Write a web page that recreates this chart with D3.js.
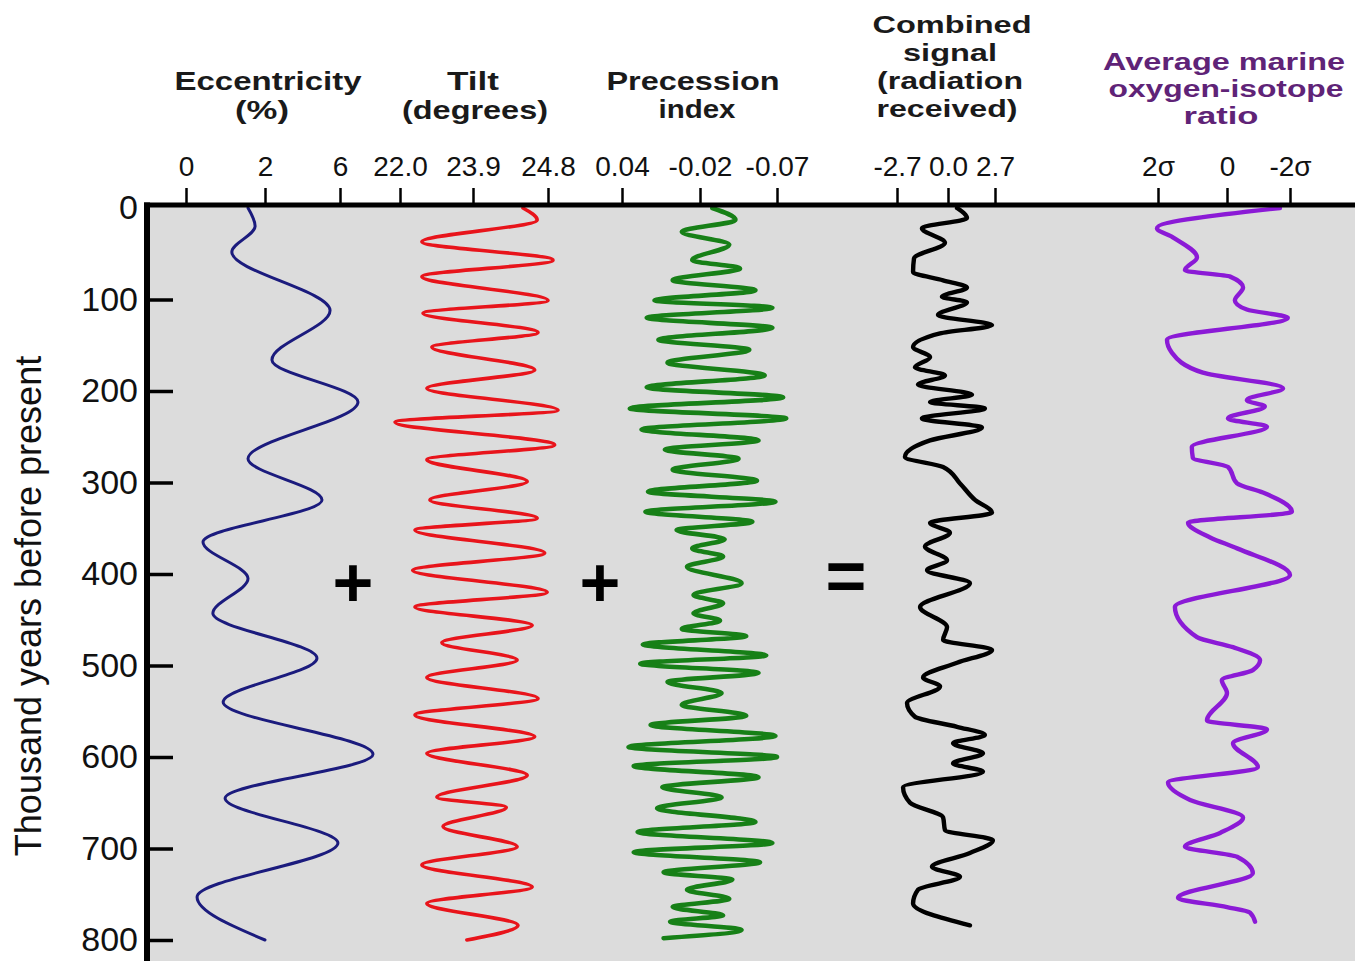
<!DOCTYPE html>
<html>
<head>
<meta charset="utf-8">
<script src="https://cdn.jsdelivr.net/npm/d3@7"></script>
<style>
  body { margin: 0; background: #ffffff; }
  svg { display: block; }
</style>
</head>
<body>
<svg id="chart" width="1355" height="961"></svg>
<script>
// ---------------- DATA ----------------
const timeTicks = [0, 100, 200, 300, 400, 500, 600, 700, 800];

// Eccentricity (%)
const eccTicks = [0, 2, 6];
const eccTickLabels = ["0", "2", "6"];
const eccTime  = [0, 20, 48, 112, 166, 212, 274, 319, 365, 405, 443, 492, 540, 597, 645, 694, 753, 800];
const eccValue = [1.57, 1.75, 1.16, 5.47, 2.37, 6.96, 1.57, 5.04, 0.43, 1.57, 0.68, 4.77, 0.94, 7.76, 0.99, 5.89, 0.28, 2.0];

// Tilt (degrees)
const tiltTicks = [22.0, 23.9, 24.8];
const tiltTickLabels = ["22.0", "23.9", "24.8"];
const tiltTime  = [0, 13, 37, 57, 75, 101, 115, 136, 152, 177, 197, 221, 234, 259, 275, 299, 319, 339, 352, 377, 396, 420, 436, 456, 475, 494, 513, 536, 554, 578, 596, 620, 644, 655, 676, 698, 718, 742, 760, 784, 800];
const tiltValue = [24.50, 24.67, 22.57, 24.86, 22.57, 24.80, 22.60, 24.68, 22.83, 24.64, 22.70, 24.92, 21.87, 24.88, 22.70, 24.55, 22.78, 24.67, 22.39, 24.76, 22.33, 24.79, 22.39, 24.61, 23.09, 24.43, 22.70, 24.68, 22.39, 24.64, 22.70, 24.55, 22.96, 24.30, 23.12, 24.43, 22.57, 24.61, 22.70, 24.44, 23.74];

// Precession index
const precTicks = [0.04, -0.02, -0.07];
const precTickLabels = ["0.04", "-0.02", "-0.07"];
const precTime  = [0, 13, 26, 40, 57, 66, 79, 90, 101, 109, 120, 131, 144, 155, 169, 183, 196, 207, 219, 230, 242, 254, 264, 274, 286, 298, 310, 321, 332, 343, 352, 362, 372, 381, 392, 410, 423, 432, 443, 451, 460, 468, 477, 489, 498, 508, 518, 530, 543, 555, 565, 577, 589, 600, 610, 622, 633, 644, 656, 671, 682, 694, 704, 715, 726, 734, 745, 755, 764, 773, 780, 789, 798];
const precValue = [-0.028, -0.043, -0.006, -0.039, -0.014, -0.046, 0.001, -0.056, 0.015, -0.067, 0.021, -0.067, 0.012, -0.052, 0.005, -0.062, 0.021, -0.074, 0.034, -0.076, 0.025, -0.058, 0.007, -0.045, 0.001, -0.057, 0.020, -0.069, 0.022, -0.054, -0.002, -0.036, -0.014, -0.035, -0.010, -0.047, -0.015, -0.035, -0.015, -0.033, -0.006, -0.050, 0.024, -0.063, 0.026, -0.058, 0.005, -0.034, -0.006, -0.050, 0.018, -0.069, 0.035, -0.070, 0.031, -0.058, 0.009, -0.034, 0.013, -0.056, 0.028, -0.067, 0.031, -0.059, 0.008, -0.041, -0.010, -0.039, 0.001, -0.035, 0.003, -0.047, 0.008];

// Combined signal (radiation received)
const combTicks = [-2.7, 0.0, 2.7];
const combTickLabels = ["-2.7", "0.0", "2.7"];
const combTime  = [0, 11, 22, 38, 55, 70, 79, 87, 97, 103, 117, 128, 137, 152, 163, 174, 183, 193, 204, 212, 219, 230, 240, 254, 272, 283, 301, 319, 333, 344, 355, 370, 385, 396, 410, 436, 458, 472, 483, 497, 513, 523, 541, 556, 567, 576, 585, 596, 607, 616, 633, 650, 666, 680, 691, 705, 720, 731, 745, 760, 784];
const combValue = [0.52, 1.09, -1.38, -0.16, -1.80, -1.85, -0.26, 1.09, -0.32, 1.09, -0.53, 2.53, -0.42, -1.85, -0.95, -1.75, -0.16, -1.59, 1.38, -0.95, 2.12, -1.38, 1.95, -0.95, -2.28, -0.26, 0.69, 1.55, 2.53, -0.95, 0.11, -1.22, -0.05, -1.11, 1.26, -1.48, -0.05, -0.26, 2.53, 0.52, -1.32, -0.42, -2.17, -1.75, 0.52, 2.12, 0.29, 2.01, 0.29, 2.01, -2.38, -2.01, -0.26, -0.16, 2.58, 1.26, -0.85, 0.69, -1.59, -1.85, 1.26];

// Average marine oxygen-isotope ratio (sigma units)
const isoTicks = [2, 0, -2];
const isoTickLabels = ["2σ", "0", "-2σ"];
const isoTime  = [0, 22, 32, 54, 68, 75, 87, 101, 111, 120, 144, 158, 180, 197, 210, 217, 230, 239, 261, 273, 283, 301, 311, 332, 344, 360, 372, 401, 436, 469, 480, 494, 505, 516, 530, 560, 570, 585, 611, 628, 647, 666, 683, 698, 709, 727, 754, 764, 770, 780];
const isoValue = [-1.68, 2.03, 1.57, 0.87, 1.22, -0.10, -0.51, -0.25, -0.63, -1.93, 1.74, 1.60, 0.70, -1.78, -0.63, -1.20, -0.03, -1.27, 1.02, 0.99, -0.03, -0.32, -1.14, -2.06, 1.13, 0.49, -0.32, -2.00, 1.51, 0.87, -0.19, -1.05, -0.82, 0.15, 0.00, 0.58, -1.27, -0.19, -0.98, 1.71, 1.07, -0.51, 0.20, 1.22, -0.32, -0.82, 1.42, 0.00, -0.73, -0.89];

// ---------------- CHART ----------------
const svg = d3.select("#chart");
const FONT = "'Liberation Sans', Arial, Helvetica, sans-serif";

const frameTop = 205, frameLeft = 147;
const y = d3.scaleLinear().domain([0, 800]).range([208, 940]);

const xEcc  = d3.scaleLinear().domain(eccTicks).range([186, 265, 340]);
const xTilt = d3.scaleLinear().domain(tiltTicks).range([400, 473, 548]);
const xPrec = d3.scaleLinear().domain(precTicks).range([622, 700, 777]);
const xComb = d3.scaleLinear().domain(combTicks).range([897, 948, 995]);
const xIso  = d3.scaleLinear().domain(isoTicks).range([1158, 1227, 1290]);

// plot background
svg.append("rect")
  .attr("x", frameLeft).attr("y", frameTop)
  .attr("width", 1355 - frameLeft).attr("height", 961 - frameTop)
  .attr("fill", "#dcdcdc");

// series
const series = [
  {time: eccTime,  value: eccValue,  x: xEcc,  color: "#1b1b7d", width: 3.0},
  {time: tiltTime, value: tiltValue, x: xTilt, color: "#e8141b", width: 3.6},
  {time: precTime, value: precValue, x: xPrec, color: "#178017", width: 4.6},
  {time: combTime, value: combValue, x: xComb, color: "#000000", width: 4.4},
  {time: isoTime,  value: isoValue,  x: xIso,  color: "#8b1ad6", width: 4.4}
];

series.forEach(s => {
  const pts = s.time.map((t, i) => ({t: t, v: s.value[i]}));
  const line = d3.line()
    .x(d => s.x(d.v))
    .y(d => y(d.t))
    .curve(d3.curveMonotoneY);
  svg.append("path")
    .datum(pts)
    .attr("d", line)
    .attr("fill", "none")
    .attr("stroke", s.color)
    .attr("stroke-width", s.width)
    .attr("stroke-linejoin", "round")
    .attr("stroke-linecap", "round");
});

// operator symbols between panels
const ops = [
  {sym: "+", x: 353, y: 607},
  {sym: "+", x: 600, y: 607},
  {sym: "=", x: 846, y: 600}
];
svg.selectAll("text.op").data(ops).join("text")
  .attr("class", "op")
  .attr("x", d => d.x).attr("y", d => d.y)
  .attr("text-anchor", "middle")
  .attr("font-family", FONT)
  .attr("font-weight", "bold")
  .attr("font-size", 70)
  .attr("fill", "#000")
  .text(d => d.sym);

// top axes
const topAxes = [
  {scale: xEcc,  ticks: eccTicks,  labels: eccTickLabels},
  {scale: xTilt, ticks: tiltTicks, labels: tiltTickLabels},
  {scale: xPrec, ticks: precTicks, labels: precTickLabels},
  {scale: xComb, ticks: combTicks, labels: combTickLabels},
  {scale: xIso,  ticks: isoTicks,  labels: isoTickLabels}
];
topAxes.forEach(a => {
  const g = svg.append("g")
    .attr("transform", `translate(0,${frameTop})`)
    .call(d3.axisTop(a.scale)
      .tickValues(a.ticks)
      .tickFormat((d, i) => a.labels[i])
      .tickSizeInner(17)
      .tickSizeOuter(0)
      .tickPadding(12));
  g.select(".domain").remove();
  g.selectAll(".tick line").attr("stroke", "#000").attr("stroke-width", 2.5);
  g.selectAll(".tick text")
    .attr("font-family", FONT)
    .attr("font-size", 28)
    .attr("fill", "#111");
});

// left axis (ticks pointing inward)
const yAxis = svg.append("g")
  .attr("transform", `translate(${frameLeft},0)`)
  .call(d3.axisLeft(y)
    .tickValues(timeTicks)
    .tickSizeInner(-26)
    .tickSizeOuter(0)
    .tickPadding(9));
yAxis.select(".domain").remove();
yAxis.selectAll(".tick line")
  .attr("stroke", "#000").attr("stroke-width", 3.5)
  .attr("display", d => d === 0 ? "none" : null);
yAxis.selectAll(".tick text")
  .attr("font-family", FONT)
  .attr("font-size", 34)
  .attr("fill", "#111");

// frame (top and left)
svg.append("line")
  .attr("x1", frameLeft - 3).attr("x2", 1355)
  .attr("y1", frameTop).attr("y2", frameTop)
  .attr("stroke", "#000").attr("stroke-width", 5);
svg.append("line")
  .attr("x1", frameLeft).attr("x2", frameLeft)
  .attr("y1", frameTop - 2.5).attr("y2", 961)
  .attr("stroke", "#000").attr("stroke-width", 6);

// y axis title
svg.append("text")
  .attr("transform", "translate(41,606) rotate(-90)")
  .attr("text-anchor", "middle")
  .attr("font-family", FONT)
  .attr("font-size", 36)
  .attr("fill", "#111")
  .text("Thousand years before present");

// panel headers
const headerLines = [
  {text: "Eccentricity", x: 268, y: 90,  w: 187, fs: 25, color: "#1a1a1a"},
  {text: "(%)",          x: 262, y: 119, w: 54,  fs: 25, color: "#1a1a1a"},
  {text: "Tilt",         x: 473, y: 90,  w: 52,  fs: 25, color: "#1a1a1a"},
  {text: "(degrees)",    x: 475, y: 119, w: 146, fs: 25, color: "#1a1a1a"},
  {text: "Precession",   x: 693, y: 90,  w: 173, fs: 25, color: "#1a1a1a"},
  {text: "index",        x: 697, y: 118, w: 77,  fs: 25, color: "#1a1a1a"},
  {text: "Combined",     x: 952, y: 33,  w: 159, fs: 24, color: "#1a1a1a"},
  {text: "signal",       x: 950, y: 61,  w: 94,  fs: 24, color: "#1a1a1a"},
  {text: "(radiation",   x: 950, y: 89,  w: 146, fs: 24, color: "#1a1a1a"},
  {text: "received)",    x: 947, y: 117, w: 141, fs: 24, color: "#1a1a1a"},
  {text: "Average marine", x: 1224, y: 70,  w: 242, fs: 23.5, color: "#5f2377"},
  {text: "oxygen-isotope", x: 1226, y: 97,  w: 235, fs: 23.5, color: "#5f2377"},
  {text: "ratio",          x: 1221, y: 124, w: 75,  fs: 23.5, color: "#5f2377"}
];
svg.selectAll("text.hdr").data(headerLines).join("text")
  .attr("class", "hdr")
  .attr("x", d => d.x - d.w / 2)
  .attr("y", d => d.y)
  .attr("textLength", d => d.w)
  .attr("lengthAdjust", "spacingAndGlyphs")
  .attr("font-family", FONT)
  .attr("font-weight", "bold")
  .attr("font-size", d => d.fs)
  .attr("fill", d => d.color)
  .text(d => d.text);
</script>
</body>
</html>
